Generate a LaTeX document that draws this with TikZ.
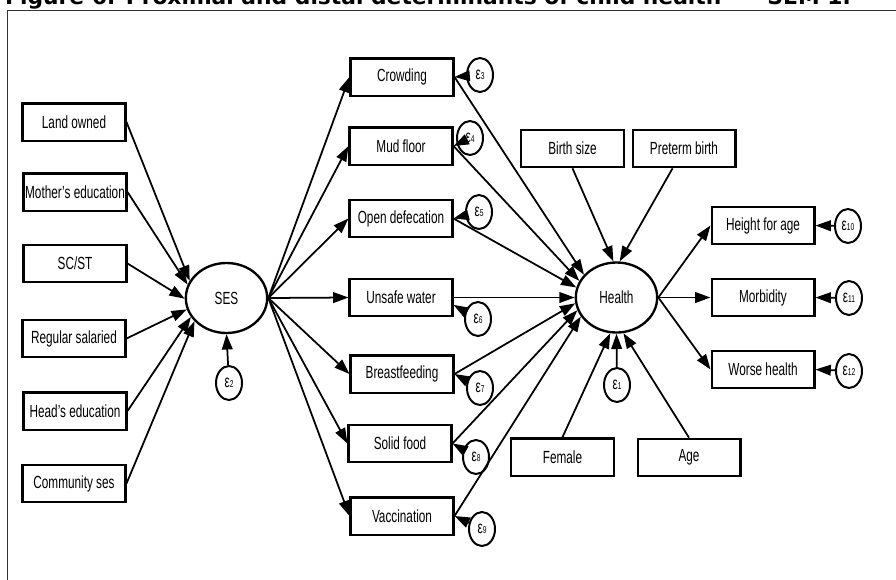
\documentclass[tikz,border=0pt]{standalone}
\usepackage{fontspec}
\setmainfont{Liberation Sans}[FakeStretch=0.67]
\newfontfamily\titlefont{DejaVu Sans}
\usetikzlibrary{arrows.meta,shapes.geometric}
\newcommand{\errlab}[1]{{\fontsize{15}{15}\selectfont ε}{\fontsize{8.5}{8.5}\selectfont #1}}

\begin{document}
\begin{tikzpicture}[x = 0.03cm, y = -0.03cm,
  box/.style = {draw, line width = 2pt, minimum width = 3.08cm, minimum height = 1.12cm, inner sep = 0pt, font = \fontsize{15}{17}\selectfont},
  latent/.style = {draw, ellipse, line width = 2pt, minimum width = 2.44cm, minimum height = 2.1cm, inner sep = 0pt, font = \fontsize{15}{17}\selectfont},
  err/.style = {draw, ellipse, line width = 1.7pt, minimum width = 0.78cm, minimum height = 1.02cm, inner sep = 0pt},
  arr/.style = {draw, line width = 1.5pt, -{Triangle[length = 4.6mm, width = 3.2mm]}}]
\useasboundingbox (0,0) rectangle (896,579);
\draw[line width = 0.8pt, black!80] (7,600) -- (7,10) -- (910,10);
\node[anchor = base west, inner sep = 0pt, font = \titlefont\bfseries\fontsize{18.6}{22}\selectfont] (TTL) at (5,4.5) {Figure 6: Proximal and distal determinants of child health\hspace{0.3cm} – \hspace{0.3cm}SEM 1:};

\node[box] (LND) at (74,122) {Land owned};
\node[box] (MED) at (75,192) {Mother's education};
\node[box] (SCT) at (75,263.5) {SC/ST};
\node[box] (REG) at (74,338.5) {Regular salaried};
\node[box] (HED) at (75,411) {Head's education};
\node[box] (COM) at (74,483.5) {Community ses};

\node[latent] (SES) at (226.5,298) {SES};
\node[err] (E2) at (229,383) {\errlab{2}};

\node[box] (CRW) at (402,77) {Crowding};
\node[box] (MUD) at (401,146) {Mud floor};
\node[box] (OPD) at (401,218.5) {Open defecation};
\node[box] (UNW) at (401,297.5) {Unsafe water};
\node[box] (BRF) at (402,374) {Breastfeeding};
\node[box] (SLD) at (400,443.5) {Solid food};
\node[box] (VAC) at (402,516) {Vaccination};

\node[err] (E3) at (480,75) {\errlab{3}};
\node[err] (E4) at (470,138) {\errlab{4}};
\node[err] (E5) at (479,212) {\errlab{5}};
\node[err] (E6) at (478,319) {\errlab{6}};
\node[err] (E7) at (480,388) {\errlab{7}};
\node[err] (E8) at (476,457) {\errlab{8}};
\node[err] (E9) at (482,529) {\errlab{9}};

\node[latent] (HLT) at (616.5,297.5) {Health};
\node[err] (E1) at (617,385) {\errlab{1}};
\node[box] (BSZ) at (572.5,148.5) {Birth size};
\node[box] (PTB) at (684,148.5) {Preterm birth};
\node[box] (FEM) at (562.5,457) {Female};
\node[box] (AGE) at (689,457.5) {Age};

\node[box] (HFA) at (763,225.5) {Height for age};
\node[box] (MRB) at (763,297.5) {Morbidity};
\node[box] (WRS) at (763,369.5) {Worse health};
\node[err] (E10) at (848,226) {\errlab{10}};
\node[err] (E11) at (849,298) {\errlab{11}};
\node[err] (E12) at (849,371) {\errlab{12}};

\path (LND.east) edge[arr] (SES.155) (MED.east) edge[arr] (SES.161) (SCT.east) edge[arr] (SES.181)
(REG.east) edge[arr] (SES.196) (HED.east) edge[arr] (SES.208) (COM.east) edge[arr] (SES.216)
(E2) edge[arr] (SES.south);

\path (SES.east) edge[arr] (CRW.west) edge[arr] (MUD.west) edge[arr] (OPD.west)
edge[arr] (UNW.west) edge[arr] (BRF.west) edge[arr] (SLD.west) edge[arr] (VAC.west);

\path (E3) edge[arr] (CRW.east) (E4) edge[arr] (MUD.east) (E5) edge[arr] (OPD.east) (E6) edge[arr] (UNW.-8)
(E7) edge[arr] (BRF.east) (E8) edge[arr] (SLD.east) (E9) edge[arr] (VAC.east);

\path (CRW.east) edge[arr] (HLT.145) (MUD.east) edge[arr] (HLT.156) (OPD.east) edge[arr] (HLT.166)
(UNW.east) edge[arr] (HLT.180) (BRF.east) edge[arr] (HLT.188) (SLD.east) edge[arr] (HLT.198) (VAC.east) edge[arr] (HLT.208);

\path (BSZ.south) edge[arr] (HLT.95) (PTB.-120) edge[arr] (HLT.85)
(FEM.north) edge[arr] (HLT.-100) (AGE.north) edge[arr] (HLT.-79) (E1) edge[arr] (HLT.south);

\path (HLT.east) edge[arr] (HFA.west) edge[arr] (MRB.west) edge[arr] (WRS.west)
(E10) edge[arr] (HFA.east) (E11) edge[arr] (MRB.east) (E12) edge[arr] (WRS.east);
\end{tikzpicture}
\end{document}
